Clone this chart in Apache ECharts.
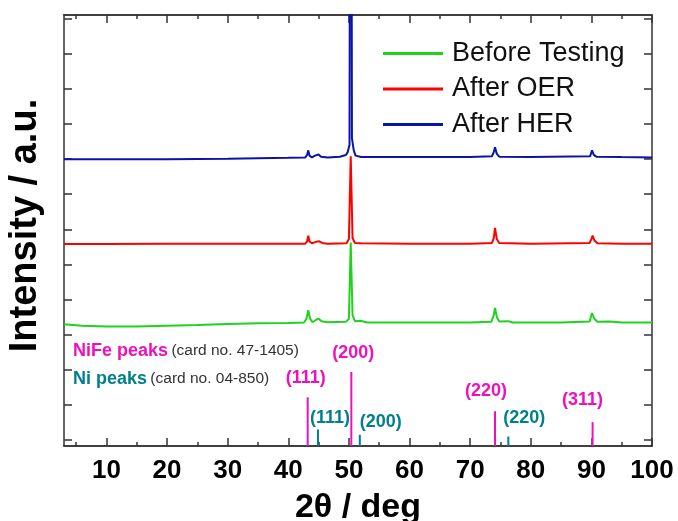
<!DOCTYPE html>
<html><head><meta charset="utf-8">
<script src="https://cdn.jsdelivr.net/npm/echarts@6/dist/echarts.min.js"></script>
<style>html,body{margin:0;padding:0;background:#fff}#c{width:678px;height:521px}</style>
</head><body><div id="c"></div>
<script>
// ---------- DATA ----------
const seriesNames = ['Before Testing', 'After OER', 'After HER'];

const beforeTesting = [
  [3,3.29],[6,3.25],[10,3.23],[15,3.23],[20,3.25],[25,3.27],[30,3.30],[35,3.32],[40,3.33],
  [42.6,3.34],[43.0,3.45],[43.3,3.69],[43.6,3.45],[44.0,3.35],[44.6,3.42],[45.0,3.45],[45.5,3.38],
  [46.5,3.35],[49.5,3.36],[50.0,3.45],[50.3,5.62],[50.6,3.55],[51.0,3.38],[51.9,3.39],[53,3.34],
  [60,3.34],[70,3.34],[73.5,3.36],[73.9,3.55],[74.1,3.76],[74.4,3.50],[74.8,3.37],[76.3,3.38],
  [77,3.34],[85,3.34],[89.7,3.37],[90.1,3.61],[90.5,3.45],[91.0,3.36],[93,3.37],[95,3.34],[100,3.34]
];
const afterOER = [
  [3,5.58],[10,5.58],[20,5.59],[30,5.59],[40,5.59],[42.8,5.59],[43.1,5.65],[43.3,5.82],[43.5,5.65],
  [43.9,5.60],[44.6,5.64],[45.0,5.66],[45.6,5.61],[46.5,5.59],[49.6,5.60],[50.0,5.72],[50.3,8.08],
  [50.6,5.75],[51.0,5.61],[52,5.60],[60,5.59],[70,5.59],[73.6,5.61],[73.9,5.75],[74.1,6.04],
  [74.4,5.72],[74.8,5.61],[80,5.59],[89.7,5.61],[90.0,5.72],[90.2,5.82],[90.5,5.68],[91.0,5.60],
  [95,5.59],[100,5.59]
];
const afterHER = [
  [3,8.00],[10,8.00],[20,8.00],[30,8.01],[40,8.04],[42.8,8.05],[43.1,8.12],[43.3,8.25],[43.5,8.10],
  [43.9,8.05],[44.4,8.10],[44.7,8.08],[45.0,8.13],[45.4,8.07],[46.5,8.05],[48.5,8.07],[49.5,8.12],
  [49.8,8.20],[50.1,8.40],[50.3,30],[50.5,8.60],[50.8,8.25],[51.1,8.10],[52,8.06],[60,8.06],[70,8.06],[73.6,8.08],
  [73.9,8.20],[74.1,8.34],[74.4,8.15],[74.8,8.07],[80,8.06],[89.8,8.08],[90.1,8.25],[90.4,8.12],
  [90.8,8.07],[95,8.06],[100,8.05]
];

const xTickValues = [10,20,30,40,50,60,70,80,90,100];
const xMinorTickValues = [5,15,25,35,45,55,65,75,85,95];
const yTickValues = [0,1,2,3,4,5,6,7,8,9,10,11,12];

const nifePeakPos = [43.2, 50.4, 74.1, 90.2];
const nifePeakHeight = [1.21, 1.93, 0.81, 0.50];
const nifePeakLabels = ['(111)', '(200)', '(220)', '(311)'];
const niPeakPos = [44.9, 51.8, 76.3];
const niPeakHeight = [0.29, 0.14, 0.09];
const niPeakLabels = ['(111)', '(200)', '(220)'];

// ---------- LAYOUT / STYLE ----------
const X_MIN = 3, X_MAX = 100, Y_MIN = -0.18, Y_MAX = 12.11;
const MAGENTA = '#ee11bb', TEAL = '#00808c';
const COLORS = ['#1ed21e', '#ff0000', '#0a14a8'];
const FONT = '"Liberation Sans", Arial, sans-serif';
const AXIS_COLOR = '#333';
const nifeLabelOffset = [[-2,-19],[2,-19],[-9,-20],[-10,-22]];
const niLabelOffset = [[12,-11],[21,-13],[16,-19]];

function stickSeries(name, pos, heights, labels, offsets, color) {
  return {
    type: 'custom', name: name, silent: true, clip: false, z: 3,
    data: pos.map((p, i) => [p, heights[i], i]),
    renderItem: function (params, api) {
      const x = api.value(0), h = api.value(1), i = api.value(2);
      const top = api.coord([x, h]);
      const bot = api.coord([x, Y_MIN]);
      return { type: 'group', children: [
        { type: 'line', shape: { x1: top[0], y1: bot[1], x2: top[0], y2: top[1] },
          style: { stroke: color, lineWidth: 2 } },
        { type: 'text', x: top[0] + offsets[i][0], y: top[1] + offsets[i][1],
          style: { text: labels[i], fill: color, fontSize: 18, fontWeight: 'bold',
                   fontFamily: FONT, align: 'center', verticalAlign: 'middle' } }
      ]};
    }
  };
}

function frameX(position, values, len, extra) {
  return Object.assign({
    type: 'value', min: X_MIN, max: X_MAX, position: position,
    axisLine: { show: true, onZero: false, lineStyle: { color: AXIS_COLOR, width: 1.5 } },
    axisTick: { show: true, inside: true, length: len, customValues: values,
                lineStyle: { color: AXIS_COLOR, width: 1.5 } },
    axisLabel: { show: false }, splitLine: { show: false }
  }, extra || {});
}
function frameY(position, extra) {
  return Object.assign({
    type: 'value', min: Y_MIN, max: Y_MAX, position: position,
    axisLine: { show: true, onZero: false, lineStyle: { color: AXIS_COLOR, width: 1.5 } },
    axisTick: { show: true, inside: true, length: 8, customValues: yTickValues,
                lineStyle: { color: AXIS_COLOR, width: 1.5 } },
    axisLabel: { show: false }, splitLine: { show: false }
  }, extra || {});
}

const chart = echarts.init(document.getElementById('c'), null, { renderer: 'canvas' });
chart.setOption({
  animation: false,
  backgroundColor: '#fff',
  grid: { left: 64, right: 26, top: 15, bottom: 75, containLabel: false, outerBoundsMode: 'none' },
  legend: {
    data: seriesNames, orient: 'vertical', left: 383, top: 40, padding: 0,
    icon: 'rect', itemWidth: 60, itemHeight: 3, itemGap: 8.5,
    textStyle: { fontSize: 27, color: '#111', fontFamily: FONT, lineHeight: 26, padding: [0,0,0,4] }
  },
  xAxis: [
    frameX('bottom', xTickValues, 8, {
      axisLabel: { show: true, customValues: xTickValues, margin: 12, color: '#000',
                   fontSize: 26, fontWeight: 'bold', fontFamily: FONT },
      name: '2θ / deg', nameLocation: 'middle', nameGap: 45,
      nameTextStyle: { fontSize: 34, fontWeight: 'bold', color: '#000', fontFamily: FONT }
    }),
    frameX('bottom', xMinorTickValues, 4),
    frameX('top', xTickValues, 8),
    frameX('top', xMinorTickValues, 4)
  ],
  yAxis: [
    frameY('left', {
      name: 'Intensity / a.u.', nameLocation: 'middle', nameGap: 19, nameRotate: 90,
      nameTextStyle: { fontSize: 38, fontWeight: 'bold', color: '#000', fontFamily: FONT,
                       padding: [0, 0, 0, 10] }
    }),
    frameY('right')
  ],
  graphic: [
    { type: 'text', x: 73, y: 351, silent: true,
      style: { text: '{a|NiFe peaks} {b|(card no. 47-1405)}', verticalAlign: 'middle',
               rich: { a: { fontSize: 18, fontWeight: 'bold', fill: MAGENTA, fontFamily: FONT },
                       b: { fontSize: 15.5, fill: '#333', fontFamily: FONT } } } },
    { type: 'text', x: 73, y: 379, silent: true,
      style: { text: '{a|Ni peaks} {b|(card no. 04-850)}', verticalAlign: 'middle',
               rich: { a: { fontSize: 18, fontWeight: 'bold', fill: TEAL, fontFamily: FONT },
                       b: { fontSize: 15.5, fill: '#333', fontFamily: FONT } } } }
  ],
  series: [
    { type: 'line', name: seriesNames[0], data: beforeTesting, symbol: 'none', showSymbol: false,
      lineStyle: { width: 2, color: COLORS[0] }, itemStyle: { color: COLORS[0] }, z: 2 },
    { type: 'line', name: seriesNames[1], data: afterOER, symbol: 'none', showSymbol: false,
      lineStyle: { width: 2, color: COLORS[1] }, itemStyle: { color: COLORS[1] }, z: 2 },
    { type: 'line', name: seriesNames[2], data: afterHER, symbol: 'none', showSymbol: false,
      lineStyle: { width: 2, color: COLORS[2] }, itemStyle: { color: COLORS[2] }, z: 2 },
    stickSeries('NiFe', nifePeakPos, nifePeakHeight, nifePeakLabels, nifeLabelOffset, MAGENTA),
    stickSeries('Ni', niPeakPos, niPeakHeight, niPeakLabels, niLabelOffset, TEAL)
  ]
});
</script>
</body></html>
